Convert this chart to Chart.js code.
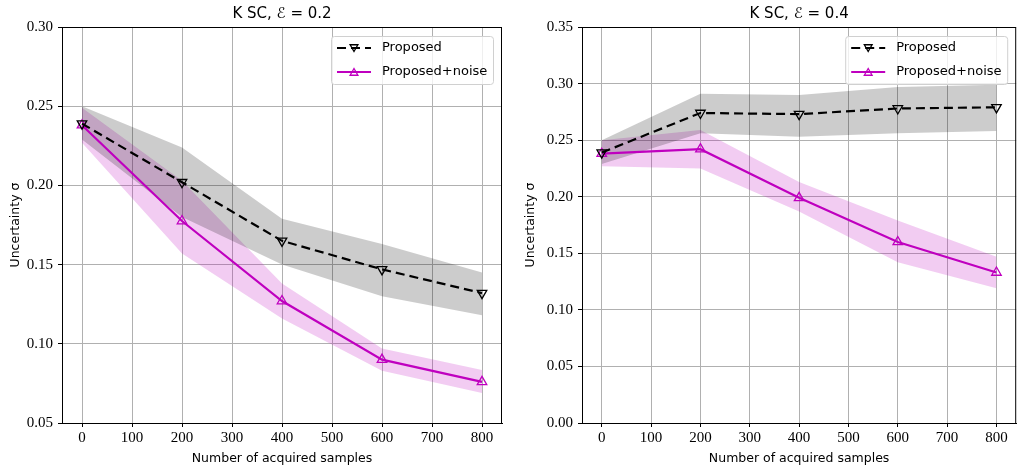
<!DOCTYPE html>
<html lang="en">
<head>
  <meta charset="UTF-8" />
  <title>K SC uncertainty</title>
  <script src="https://cdn.jsdelivr.net/npm/chart.js"></script>
  <style>
    body { margin: 0; padding: 0; background: #fff; }
    .wrap { position: relative; width: 1023px; height: 466px; }
    #chartA { position: absolute; left: 0; top: 0; }
    #chartB { position: absolute; left: 512px; top: 0; }
  </style>
</head>
<body>
  <div class="wrap">
    <canvas id="chartA" width="512" height="466"></canvas>
    <canvas id="chartB" width="511" height="466"></canvas>
  </div>

  <script>
    // === Data ===
    const samples = [0, 200, 400, 600, 800];
    const xTicks = [0, 100, 200, 300, 400, 500, 600, 700, 800];

    // E = 0.2
    const proposedA = [0.239, 0.202, 0.165, 0.147, 0.132];
    const proposedA_lo = [0.229, 0.180, 0.150, 0.130, 0.118];
    const proposedA_hi = [0.250, 0.224, 0.179, 0.163, 0.145];
    const noiseA = [0.238, 0.1775, 0.127, 0.090, 0.076];
    const noiseA_lo = [0.227, 0.157, 0.116, 0.083, 0.069];
    const noiseA_hi = [0.249, 0.203, 0.138, 0.097, 0.0835];
    const yTicksA = [0.05, 0.10, 0.15, 0.20, 0.25, 0.30];

    // E = 0.4
    const proposedB = [0.239, 0.274, 0.273, 0.278, 0.279];
    const proposedB_lo = [0.229, 0.256, 0.253, 0.256, 0.258];
    const proposedB_hi = [0.250, 0.291, 0.290, 0.297, 0.299];
    const noiseB = [0.238, 0.242, 0.199, 0.160, 0.133];
    const noiseB_lo = [0.227, 0.225, 0.187, 0.142, 0.119];
    const noiseB_hi = [0.250, 0.259, 0.213, 0.179, 0.147];
    const yTicksB = [0.00, 0.05, 0.10, 0.15, 0.20, 0.25, 0.30, 0.35];

    const MAGENTA = '#bf00bf';
    const SANS = '"DejaVu Sans", sans-serif';
    const SERIF = '"Liberation Serif", serif';
    const DASH = [9, 5];

    const pts = arr => arr.map((v, i) => ({ x: samples[i], y: v }));

    function triangle(ctx, x, y, r, down) {
      const s = down ? -1 : 1;
      ctx.beginPath();
      ctx.moveTo(x, y - s * r);
      ctx.lineTo(x + r * 0.866, y + s * r * 0.5);
      ctx.lineTo(x - r * 0.866, y + s * r * 0.5);
      ctx.closePath();
      ctx.stroke();
    }

    // frame, title and legend
    const decor = {
      id: 'decor',
      afterDatasetsDraw(chart, args, opts) {
        const ctx = chart.ctx;
        const a = chart.chartArea;
        ctx.save();
        ctx.strokeStyle = '#000';
        ctx.lineWidth = 1;
        ctx.setLineDash([]);
        ctx.strokeRect(a.left + 0.5, a.top + 0.5, a.right - a.left - 1, a.bottom - a.top);

        // title
        ctx.fillStyle = '#000';
        ctx.font = '15px ' + SANS;
        ctx.textAlign = 'center';
        ctx.textBaseline = 'middle';
        ctx.fillText(opts.title, (a.left + a.right) / 2, 14);

        // legend box
        const w = 162, h = 48;
        const bx = a.right - 9 - w, by = a.top + 9;
        ctx.fillStyle = 'rgba(255,255,255,0.8)';
        ctx.strokeStyle = '#d0d0d0';
        ctx.beginPath();
        ctx.roundRect(bx + 0.5, by + 0.5, w, h, 3);
        ctx.fill();
        ctx.stroke();

        const rows = [
          { label: 'Proposed', color: '#000', dash: DASH, down: true },
          { label: 'Proposed+noise', color: MAGENTA, dash: [], down: false }
        ];
        rows.forEach((r, i) => {
          const y = by + 12 + i * 24;
          ctx.strokeStyle = r.color;
          ctx.lineWidth = 2.2;
          ctx.setLineDash(r.dash);
          ctx.beginPath();
          ctx.moveTo(bx + 6, y);
          ctx.lineTo(bx + 40, y);
          ctx.stroke();
          ctx.setLineDash([]);
          ctx.lineWidth = 1.3;
          triangle(ctx, bx + 23, y + (r.down ? -1 : 1), 4.5, r.down);
          ctx.fillStyle = '#000';
          ctx.font = '13px ' + SANS;
          ctx.textAlign = 'left';
          ctx.fillText(r.label, bx + 51, y);
        });
        ctx.restore();
      }
    };

    function makeChart(id, title, prop, propLo, propHi, noise, noiseLo, noiseHi, yTicks, yWidth, padLeft, padRight, yTitlePad) {
      const ctx = document.getElementById(id).getContext('2d');
      return new Chart(ctx, {
        type: 'line',
        data: {
          datasets: [
            {
              label: 'Proposed',
              data: pts(prop),
              borderColor: '#000',
              borderWidth: 2.2,
              borderDash: DASH,
              pointStyle: 'triangle',
              rotation: 180,
              pointRadius: 5.5,
              pointBorderWidth: 1.3,
              pointBorderColor: '#000',
              pointBackgroundColor: 'rgba(0,0,0,0)',
              fill: false
            },
            {
              label: 'Proposed+noise',
              data: pts(noise),
              borderColor: MAGENTA,
              borderWidth: 2.2,
              pointStyle: 'triangle',
              pointRadius: 5.5,
              pointBorderWidth: 1.3,
              pointBorderColor: MAGENTA,
              pointBackgroundColor: 'rgba(0,0,0,0)',
              fill: false
            },
            { data: pts(propLo), borderWidth: 0, pointRadius: 0, fill: false },
            { data: pts(propHi), borderWidth: 0, pointRadius: 0, fill: 2, backgroundColor: 'rgba(0,0,0,0.2)' },
            { data: pts(noiseLo), borderWidth: 0, pointRadius: 0, fill: false },
            { data: pts(noiseHi), borderWidth: 0, pointRadius: 0, fill: 4, backgroundColor: 'rgba(191,0,191,0.2)' }
          ]
        },
        options: {
          responsive: false,
          animation: false,
          layout: { padding: { top: 27, left: padLeft, right: padRight, bottom: 0 } },
          plugins: {
            legend: { display: false },
            tooltip: { enabled: false },
            decor: { title: title }
          },
          scales: {
            x: {
              type: 'linear',
              min: -40,
              max: 840,
              afterBuildTicks: s => { s.ticks = xTicks.map(v => ({ value: v })); },
              afterFit: s => { s.height = 43; },
              ticks: {
                color: '#000',
                font: { family: SERIF, size: 15 },
                padding: 2,
                maxRotation: 0,
                callback: v => String(v)
              },
              grid: { color: '#b0b0b0', lineWidth: 1, tickColor: '#000', tickLength: 4 },
              border: { color: '#000' },
              title: {
                display: true,
                text: 'Number of acquired samples',
                color: '#000',
                font: { family: SANS, size: 12.5 },
                padding: { top: 0, bottom: 0 }
              }
            },
            y: {
              min: yTicks[0],
              max: yTicks[yTicks.length - 1],
              afterBuildTicks: s => { s.ticks = yTicks.map(v => ({ value: v })); },
              afterFit: s => { s.width = yWidth; },
              ticks: {
                color: '#000',
                font: { family: SERIF, size: 15 },
                padding: 5,
                callback: v => v.toFixed(2)
              },
              grid: { color: '#b0b0b0', lineWidth: 1, tickColor: '#000', tickLength: 4 },
              border: { color: '#000' },
              title: {
                display: true,
                text: 'Uncertainty σ',
                color: '#000',
                font: { family: SANS, size: 12.5 },
                padding: { top: yTitlePad, bottom: 0 }
              }
            }
          }
        },
        plugins: [decor]
      });
    }

    makeChart('chartA', 'K SC, ℰ = 0.2', proposedA, proposedA_lo, proposedA_hi,
      noiseA, noiseA_lo, noiseA_hi, yTicksA, 62, 0, 10, 8);
    makeChart('chartB', 'K SC, ℰ = 0.4', proposedB, proposedB_lo, proposedB_hi,
      noiseB, noiseB_lo, noiseB_hi, yTicksB, 67, 3, 2, 8);
  </script>
</body>
</html>
